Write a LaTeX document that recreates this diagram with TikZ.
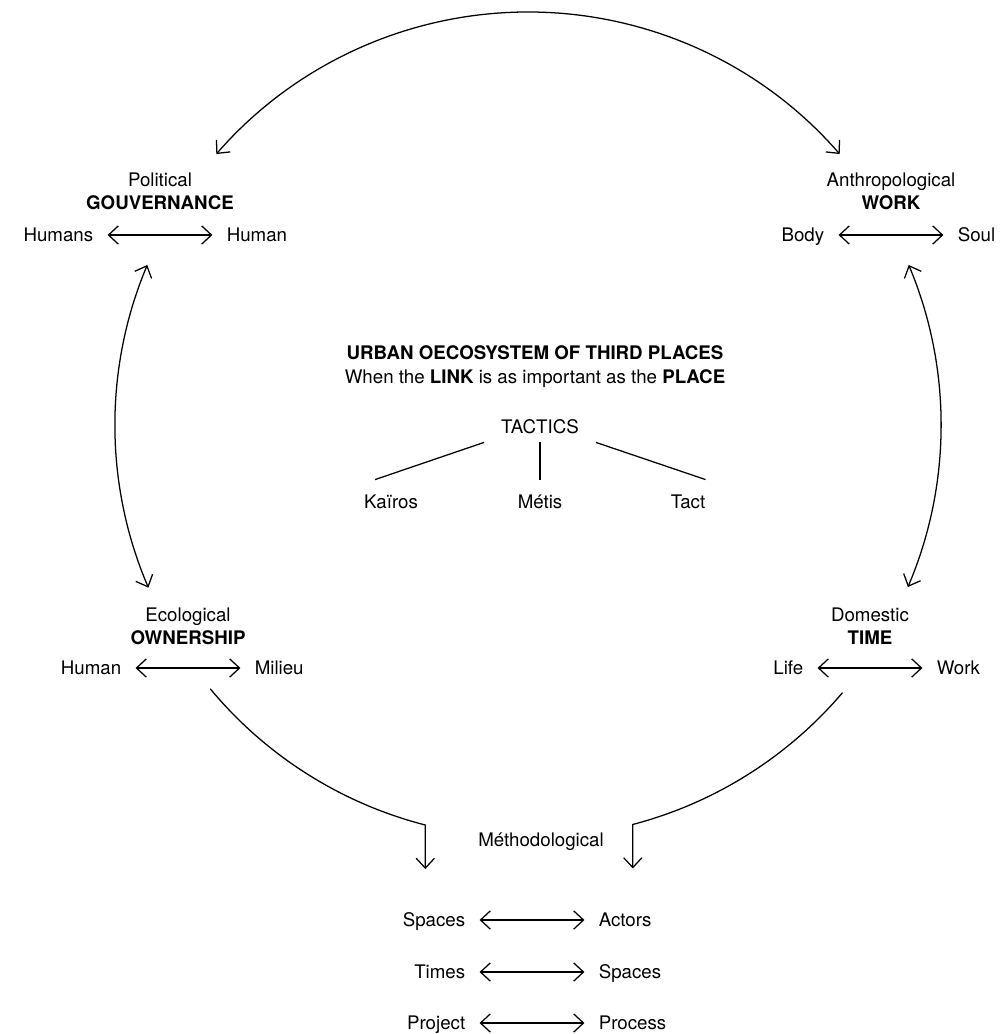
\documentclass[tikz,border=0pt]{standalone}
\usepackage{fontspec}
\setmainfont{TeX Gyre Heros}
\usetikzlibrary{arrows.meta,calc,positioning}
\newcommand{\oecofont}{\fontsize{13.3}{16}\selectfont}
\tikzset{
  oecoWord/.style={font=\oecofont, inner sep=0pt, text height=9.5pt, text depth=0pt},
  oecoHead/.style={oecoWord, font=\oecofont\bfseries},
  oecoLeft/.style={oecoWord, anchor=east},
  oecoRight/.style={oecoWord, anchor=west},
  oecoPair/.style={<->, line width=0.9pt, shorten <=10pt, shorten >=10pt},
  oecoLoop/.style={<->, line width=0.9pt},
  oecoFlow/.style={->, line width=0.9pt},
  oecoBranch/.style={line width=0.9pt},
  oecoTactic/.style={oecoWord, inner xsep=12pt, inner ysep=6pt},
  oecoLeaf/.style={oecoWord, inner ysep=11pt}
}

\begin{document}
\begin{tikzpicture}[x=0.025cm, y=0.025cm, >={Straight Barb[length=7pt,width=13pt]}]
  \useasboundingbox (0,0) rectangle (1000,-1034);
  \coordinate (hub) at (528,-425);
  % political
  \node[oecoWord] (polit) at (160,-180) {Political};
  \node[oecoHead] (gouv) at (160,-203) {GOUVERNANCE};
  \node[oecoLeft] (govL) at (93.5,-235) {Humans};
  \node[oecoRight] (govR) at (226.5,-235) {Human};
  \draw[oecoPair] (govL) -- (govR);
  % anthropological
  \node[oecoWord] (anthro) at (891,-180) {Anthropological};
  \node[oecoHead] (work) at (891,-203) {WORK};
  \node[oecoLeft] (workL) at (824.5,-235) {Body};
  \node[oecoRight] (workR) at (957.5,-235) {Soul};
  \draw[oecoPair] (workL) -- (workR);
  % ecological
  \node[oecoWord] (eco) at (188,-615) {Ecological};
  \node[oecoHead] (own) at (188,-638) {OWNERSHIP};
  \node[oecoLeft] (ownL) at (121.5,-668) {Human};
  \node[oecoRight] (ownR) at (254.5,-668) {Milieu};
  \draw[oecoPair] (ownL) -- (ownR);
  % domestic
  \node[oecoWord] (dom) at (870,-615) {Domestic};
  \node[oecoHead] (time) at (870,-638) {TIME};
  \node[oecoLeft] (timeL) at (803.5,-668) {Life};
  \node[oecoRight] (timeR) at (936.5,-668) {Work};
  \draw[oecoPair] (timeL) -- (timeR);
  % centre
  \node[oecoHead] (urban) at (535,-353) {URBAN OECOSYSTEM OF THIRD PLACES};
  \node[oecoWord] (link) at (535,-377) {When the \textbf{LINK} is as important as the \textbf{PLACE}};
  \node[oecoTactic] (tactics) at (540,-427) {TACTICS};
  \node[oecoLeaf] (kairos) at (391,-502) {Kaïros};
  \node[oecoLeaf] (metis) at (540,-502) {Métis};
  \node[oecoLeaf] (tact) at (688,-502) {Tact};
  \draw[oecoBranch] (tactics.south west) -- ([xshift=8pt]kairos.north west);
  \draw[oecoBranch] (tactics.south) -- (metis.north);
  \draw[oecoBranch] (tactics.south east) -- (tact.north east);
  % methodological
  \node[oecoWord] (method) at (541,-840) {Méthodological};
  \node[oecoLeft] (spaceL) at (465.5,-920) {Spaces};
  \node[oecoRight] (actorR) at (598.5,-920) {Actors};
  \node[oecoLeft] (timesL) at (465.5,-972) {Times};
  \node[oecoRight] (spaceR) at (598.5,-972) {Spaces};
  \node[oecoLeft] (projL) at (465.5,-1023) {Project};
  \node[oecoRight] (procR) at (598.5,-1023) {Process};
  \draw[oecoPair] (spaceL) -- (actorR);
  \draw[oecoPair] (timesL) -- (spaceR);
  \draw[oecoPair] (projL) -- (procR);
  % the ring
  \coordinate (loopNE) at ($(hub)+(41:413)$);
  \draw[oecoLoop] (loopNE) arc[start angle=41, end angle=139, radius=413];
  \coordinate (loopWN) at ($(hub)+(157.2:413)$);
  \draw[oecoLoop] (loopWN) arc[start angle=157.2, end angle=203.2, radius=413];
  \coordinate (loopEN) at ($(hub)+(22.8:413)$);
  \draw[oecoLoop] (loopEN) arc[start angle=22.8, end angle=-23.1, radius=413];
  % towards the method
  \coordinate (ownS) at ($(hub)+(219.7:413)$);
  \coordinate (methW) at ($(hub)+(255.6:413)+(0,-44)$);
  \draw[oecoFlow] (ownS) arc[start angle=219.7, end angle=255.6, radius=413] -- (methW);
  \coordinate (timeS) at ($(hub)+(319.6:413)$);
  \coordinate (methE) at ($(hub)+(284.7:413)+(0,-44)$);
  \draw[oecoFlow] (timeS) arc[start angle=319.6, end angle=284.7, radius=413] -- (methE);
\end{tikzpicture}
\end{document}
